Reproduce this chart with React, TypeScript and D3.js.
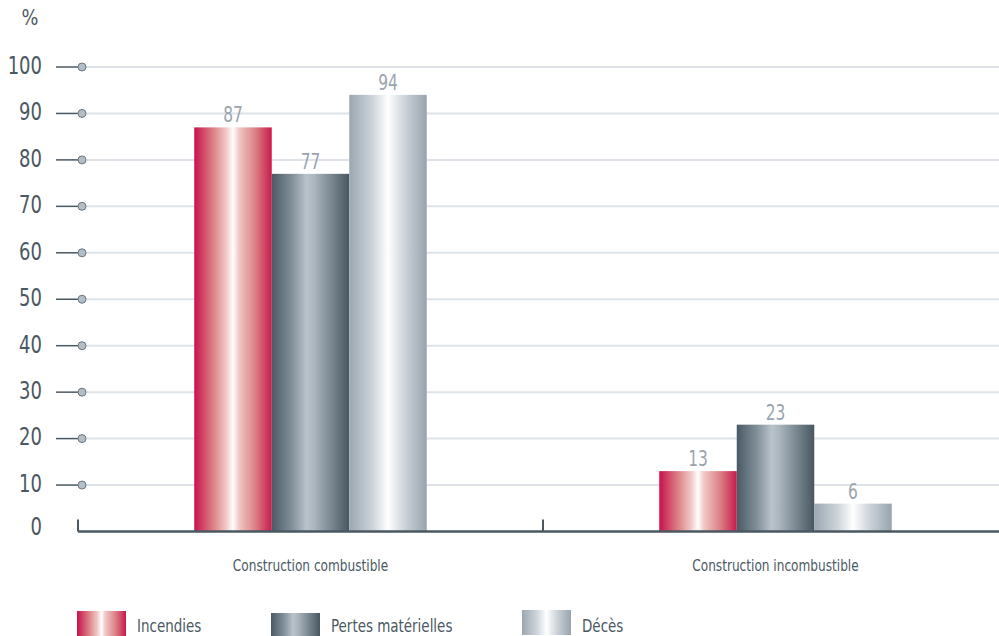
import React from "react";
import * as d3 from "d3";

const categories = ["Construction combustible", "Construction incombustible"];
const seriesNames = ["Incendies", "Pertes matérielles", "Décès"];
const incendies = [87, 13];
const pertes = [77, 23];
const deces = [94, 6];
const yTicks = [0, 10, 20, 30, 40, 50, 60, 70, 80, 90, 100];

const seriesValues = [incendies, pertes, deces];
const gradIds = ["g-red", "g-dark", "g-light"];

const W = 999;
const H = 636;
const FONT = "'DejaVu Sans Condensed', 'Liberation Sans Narrow', 'Roboto', sans-serif";
const AXIS = "#4a5862";
const LABEL = "#9aa4ae";

// Text squeezed horizontally to get a narrow, condensed look
function T({
  x,
  y,
  sx = 0.86,
  children,
  ...rest
}: {
  x: number;
  y: number;
  sx?: number;
  children: React.ReactNode;
  [k: string]: any;
}) {
  return (
    <text transform={`translate(${x},${y}) scale(${sx},1)`} {...rest}>
      {children}
    </text>
  );
}

export default function App() {
  const y = d3.scaleLinear().domain([0, 100]).range([531.5, 67]);
  const x0 = d3.scaleBand<string>().domain(categories).range([78, 1008]).padding(0);
  const x1 = d3
    .scaleBand<string>()
    .domain(seriesNames)
    .range([0, x0.bandwidth()])
    .paddingInner(0)
    .paddingOuter(1.5);

  const legendX = [77, 271, 522];
  const legendY = [611, 613, 610];

  return (
    <svg
      width={W}
      height={H}
      style={{ position: "absolute", left: 0, top: 0, background: "#fff" }}
      fontFamily={FONT}
    >
      <defs>
        <linearGradient id="g-red" x1="0" x2="1" y1="0" y2="0">
          <stop offset="0" stopColor="#c8124a" />
          <stop offset="0.25" stopColor="#dd8388" />
          <stop offset="0.42" stopColor="#f2cccb" />
          <stop offset="0.5" stopColor="#ffffff" />
          <stop offset="0.58" stopColor="#f0c6c5" />
          <stop offset="0.78" stopColor="#dc8387" />
          <stop offset="1" stopColor="#c81a4a" />
        </linearGradient>
        <linearGradient id="g-dark" x1="0" x2="1" y1="0" y2="0">
          <stop offset="0" stopColor="#4a5a65" />
          <stop offset="0.25" stopColor="#7f8d97" />
          <stop offset="0.45" stopColor="#b9c3ca" />
          <stop offset="0.55" stopColor="#aab5bd" />
          <stop offset="0.8" stopColor="#73818b" />
          <stop offset="1" stopColor="#48565f" />
        </linearGradient>
        <linearGradient id="g-light" x1="0" x2="1" y1="0" y2="0">
          <stop offset="0" stopColor="#9ba7b1" />
          <stop offset="0.3" stopColor="#cdd4da" />
          <stop offset="0.5" stopColor="#ffffff" />
          <stop offset="0.7" stopColor="#cfd6dc" />
          <stop offset="1" stopColor="#97a3ad" />
        </linearGradient>
      </defs>

      {/* percent unit */}
      <T x={30} y={18} sx={0.9} textAnchor="middle" dominantBaseline="central" fontSize={22} fill={AXIS}>
        %
      </T>

      {/* gridlines, ticks and y labels */}
      {yTicks.map((t) => (
        <g key={t}>
          {t > 0 && (
            <>
              <line x1={82} x2={W} y1={y(t)} y2={y(t)} stroke="#dde3e8" strokeWidth={2} />
              <line x1={56} x2={82} y1={y(t)} y2={y(t)} stroke={AXIS} strokeWidth={1.5} />
              <circle cx={82} cy={y(t)} r={4} fill="#b3bec6" stroke="#6a7780" strokeWidth={1} />
            </>
          )}
          <T
            x={42}
            y={y(t) - (t === 0 ? 5 : 2)}
            sx={0.8}
            textAnchor="end"
            dominantBaseline="central"
            fontSize={25}
            fill={AXIS}
          >
            {t}
          </T>
        </g>
      ))}

      {/* bars */}
      {categories.map((c, ci) => (
        <g key={c} transform={`translate(${x0(c)},0)`}>
          {seriesNames.map((s, si) => {
            const v = seriesValues[si][ci];
            const bx = x1(s)!;
            return (
              <g key={s}>
                <rect
                  x={bx}
                  y={y(v)}
                  width={x1.bandwidth()}
                  height={y(0) - y(v)}
                  fill={`url(#${gradIds[si]})`}
                />
                <T
                  x={bx + x1.bandwidth() / 2}
                  y={y(v) - 5}
                  sx={0.78}
                  textAnchor="middle"
                  fontSize={22}
                  fill={LABEL}
                >
                  {v}
                </T>
              </g>
            );
          })}
        </g>
      ))}

      {/* x axis */}
      <line x1={78} x2={W} y1={y(0)} y2={y(0)} stroke={AXIS} strokeWidth={2.5} />
      {categories.map((c) => (
        <line
          key={c}
          x1={x0(c)!}
          x2={x0(c)!}
          y1={y(0)}
          y2={y(0) - 12}
          stroke={AXIS}
          strokeWidth={2}
        />
      ))}
      {categories.map((c) => (
        <T
          key={c}
          x={x0(c)! + x0.bandwidth() / 2}
          y={571}
          sx={0.9}
          textAnchor="middle"
          fontSize={15}
          fill={AXIS}
        >
          {c}
        </T>
      ))}

      {/* legend */}
      {seriesNames.map((s, i) => (
        <g key={s}>
          <rect x={legendX[i]} y={legendY[i]} width={49} height={25} fill={`url(#${gradIds[i]})`} />
          <T x={legendX[i] + 60} y={632} sx={0.88} fontSize={17} fill={AXIS}>
            {s}
          </T>
        </g>
      ))}
    </svg>
  );
}
